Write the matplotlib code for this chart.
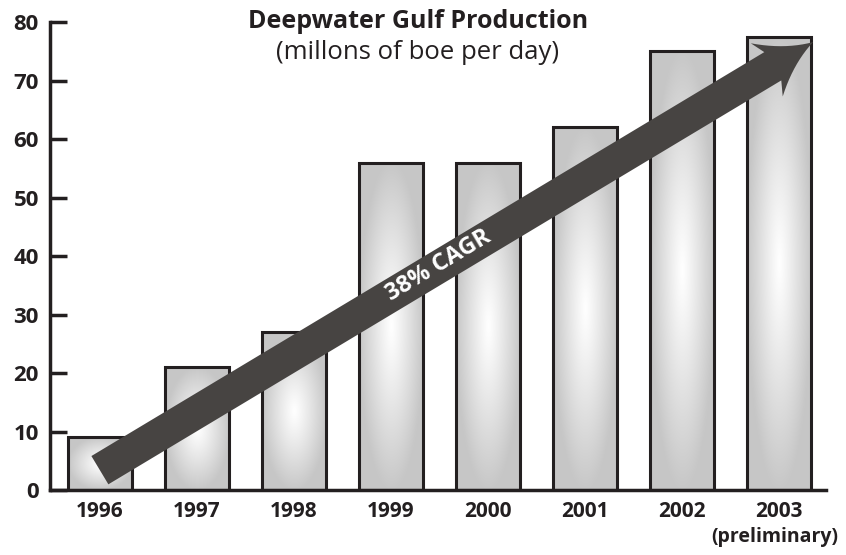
import numpy as np
import matplotlib
matplotlib.use("Agg")
import matplotlib.pyplot as plt
from matplotlib.patches import Polygon

# =========================
# DATA
# =========================
years = ["1996", "1997", "1998", "1999", "2000", "2001", "2002", "2003"]
production = [9, 21, 27, 56, 56, 62, 75, 77.5]
yticks = [0, 10, 20, 30, 40, 50, 60, 70, 80]
last_note = "(preliminary)"

plt.rcParams['font.family'] = ['Open Sans', 'DejaVu Sans']
edge = "#231f20"
arrow_col = "#474442"

fig = plt.figure(figsize=(8.46, 5.55), dpi=100)
ax = fig.add_axes([0.059, 0.117, 0.917, 0.843])

x = np.arange(len(years))
bars = ax.bar(x, production, width=0.66, color="none", edgecolor=edge, linewidth=2.2, zorder=3)

# radial gradient fill for every bar
for b in bars:
    x0, y0 = b.get_x(), b.get_y()
    w, h = b.get_width(), b.get_height()
    gx = np.linspace(-1, 1, 60)
    gy = np.linspace(-1, 1, 200)
    X, Y = np.meshgrid(gx, gy)
    r = np.sqrt(X**2 + Y**2)
    v = 1 - 0.22 * np.clip(r, 0, 1) ** 1.1
    img = np.dstack([v, v, v])
    im = ax.imshow(img, extent=[x0, x0 + w, y0, y0 + h], origin="lower",
                   aspect="auto", interpolation="bilinear", zorder=2)
    im.set_clip_path(b)

ax.set_xlim(-0.515, 7.48)
ax.set_ylim(0, 80)

# axes styling
for s in ["top", "right"]:
    ax.spines[s].set_visible(False)
for s in ["left", "bottom"]:
    ax.spines[s].set_linewidth(2.5)
    ax.spines[s].set_color(edge)
ax.set_yticks(yticks)
ax.set_yticklabels([str(t) for t in yticks], fontsize=16, fontweight="bold", color=edge)
ax.tick_params(axis="y", direction="in", length=12, width=2.5, color=edge, pad=8)
ax.set_xticks(x)
ax.set_xticklabels(years, fontsize=15, fontweight="bold", color=edge)
ax.tick_params(axis="x", length=0, pad=8)

# note under the last year
ax.annotate(last_note, xy=(x[-1], 0), xycoords=("data", "axes fraction"),
            xytext=(-3, -34), textcoords="offset points", ha="center", va="center",
            fontsize=14, fontweight="bold", color=edge, annotation_clip=False)

# =========================
# ARROW (built in pixel space)
# =========================
fig.canvas.draw()
tail = ax.transData.transform((0.0, 3.4))
tip = ax.transData.transform((7.35, 76.6))
d = tip - tail
u = d / np.hypot(*d)
n = np.array([-u[1], u[0]])
half_w = 16.5
junc = 47.0
barb_back = 54.0
barb_h = 31.0


def curve(p0, ctrl, p1, k=12):
    t = np.linspace(0, 1, k)[:, None]
    return (1 - t) ** 2 * p0 + 2 * (1 - t) * t * ctrl + t ** 2 * p1


lower_barb = tip - u * barb_back - n * barb_h
upper_barb = tip - u * barb_back + n * barb_h
pts = [tail - n * half_w, tip - u * junc - n * half_w, lower_barb]
pts += list(curve(lower_barb, tip - u * 28 - n * 8, tip)[1:])
pts += list(curve(tip, tip - u * 28 + n * 8, upper_barb)[1:])
pts += [tip - u * junc + n * half_w, tail + n * half_w]
pts_data = ax.transData.inverted().transform(np.array(pts))
ax.add_patch(Polygon(pts_data, closed=True, facecolor=arrow_col, edgecolor="none", zorder=5))

ang = np.degrees(np.arctan2(d[1], d[0]))
mid = ax.transData.inverted().transform(tail + d * 0.475 + n * 1.0)
ax.text(mid[0], mid[1], "38% CAGR", rotation=ang, rotation_mode="anchor",
        ha="center", va="center", color="white", fontsize=17, fontweight="bold", zorder=6)

# =========================
# TITLE
# =========================
fig.text(0.494, 0.962, "Deepwater Gulf Production", ha="center", va="center",
         fontsize=18, fontweight="bold", color=edge)
fig.text(0.494, 0.905, "(millons of boe per day)", ha="center", va="center",
         fontsize=18.5, color=edge)

fig.savefig("out.png", dpi=100)
